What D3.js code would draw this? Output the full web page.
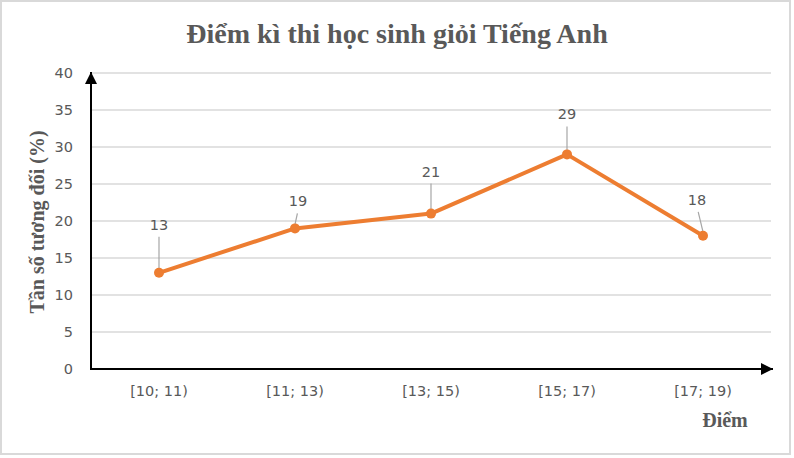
<!DOCTYPE html>
<html>
<head>
<meta charset="utf-8">
<script src="https://cdn.jsdelivr.net/npm/d3@7"></script>
<style>
  html, body { margin: 0; padding: 0; background: #fff; }
  svg { display: block; }
</style>
</head>
<body>
<svg id="chart" width="794" height="458"></svg>
<script>
// data
const categories = ["[10; 11)", "[11; 13)", "[13; 15)", "[15; 17)", "[17; 19)"];
const values = [13, 19, 21, 29, 18];
const yTicks = [0, 5, 10, 15, 20, 25, 30, 35, 40];

// label placement (px offset from point)
const labelDx = [0, 3, 0, 0, -6];
const labelDy = [-48, -27, -42, -40, -36];

const margin = { top: 73, right: 23, bottom: 89, left: 91 };
const svg = d3.select("#chart");
const W = +svg.attr("width");
const H = +svg.attr("height");
const width = W - margin.left - margin.right;
const height = H - margin.top - margin.bottom;

const grey = "#595959";
const orange = "#ED7D31";
const sans = "'DejaVu Sans', Verdana, sans-serif";
const serif = "'Liberation Serif', 'Times New Roman', serif";

// frame
svg.append("rect")
  .attr("x", 1).attr("y", 1)
  .attr("width", W - 5).attr("height", H - 5)
  .attr("fill", "#fff")
  .attr("stroke", "#d9d9d9")
  .attr("stroke-width", 2);

svg.append("defs").append("marker")
  .attr("id", "arrow")
  .attr("viewBox", "0 0 10 10")
  .attr("refX", 10).attr("refY", 5)
  .attr("markerWidth", 6).attr("markerHeight", 6)
  .attr("markerUnits", "strokeWidth")
  .attr("orient", "auto")
  .append("path")
  .attr("d", "M0,0 L10,5 L0,10 Z")
  .attr("fill", "#000");

const g = svg.append("g").attr("transform", `translate(${margin.left},${margin.top})`);

const x = d3.scaleBand().domain(categories).range([0, width]);
const y = d3.scaleLinear().domain([0, 40]).range([height, 0]);

// gridlines
g.append("g")
  .selectAll("line")
  .data(yTicks.filter((d) => d > 0))
  .join("line")
  .attr("x1", 0).attr("x2", width)
  .attr("y1", (d) => y(d)).attr("y2", (d) => y(d))
  .attr("stroke", "#d9d9d9")
  .attr("stroke-width", 1.5);

// y axis labels
const yAxis = g.append("g")
  .call(d3.axisLeft(y).tickValues(yTicks).tickSize(0).tickPadding(18));
yAxis.select(".domain").remove();
yAxis.selectAll("text")
  .attr("fill", grey)
  .style("font-family", sans)
  .style("font-size", "14.5px");

// x axis labels
const xAxis = g.append("g")
  .attr("transform", `translate(0,${height})`)
  .call(d3.axisBottom(x).tickSize(0).tickPadding(17));
xAxis.select(".domain").remove();
xAxis.selectAll("text")
  .attr("fill", grey)
  .style("font-family", sans)
  .style("font-size", "14.5px");

// axis arrows
g.append("line")
  .attr("x1", 0).attr("y1", height)
  .attr("x2", width + 2).attr("y2", height)
  .attr("stroke", "#000").attr("stroke-width", 2)
  .attr("marker-end", "url(#arrow)");
g.append("line")
  .attr("x1", 0).attr("y1", height + 1)
  .attr("x2", 0).attr("y2", -1)
  .attr("stroke", "#000").attr("stroke-width", 2)
  .attr("marker-end", "url(#arrow)");

const pts = values.map((v, i) => ({
  cx: x(categories[i]) + x.bandwidth() / 2,
  cy: y(v),
  v,
  dx: labelDx[i],
  dy: labelDy[i],
}));

// leader lines
g.append("g")
  .selectAll("line")
  .data(pts)
  .join("line")
  .attr("x1", (p) => p.cx + p.dx * 0.8)
  .attr("y1", (p) => p.cy + p.dy + 12)
  .attr("x2", (p) => p.cx)
  .attr("y2", (p) => p.cy - 4)
  .attr("stroke", "#a6a6a6")
  .attr("stroke-width", 1.2);

// line
const line = d3.line().x((p) => p.cx).y((p) => p.cy);
g.append("path")
  .datum(pts)
  .attr("d", line)
  .attr("fill", "none")
  .attr("stroke", orange)
  .attr("stroke-width", 4)
  .attr("stroke-linejoin", "round");

g.append("g")
  .selectAll("circle")
  .data(pts)
  .join("circle")
  .attr("cx", (p) => p.cx)
  .attr("cy", (p) => p.cy)
  .attr("r", 5)
  .attr("fill", orange);

// data labels
g.append("g")
  .selectAll("text")
  .data(pts)
  .join("text")
  .attr("x", (p) => p.cx + p.dx)
  .attr("y", (p) => p.cy + p.dy)
  .attr("text-anchor", "middle")
  .attr("dy", "0.35em")
  .attr("fill", grey)
  .style("font-family", sans)
  .style("font-size", "14.5px")
  .text((p) => p.v);

// title
svg.append("text")
  .attr("x", 397).attr("y", 43)
  .attr("text-anchor", "middle")
  .attr("fill", grey)
  .style("font-family", serif)
  .style("font-weight", "bold")
  .style("font-size", "28px")
  .text("Điểm kì thi học sinh giỏi Tiếng Anh");

// y title
svg.append("text")
  .attr("transform", "translate(44,222) rotate(-90)")
  .attr("text-anchor", "middle")
  .attr("fill", grey)
  .style("font-family", serif)
  .style("font-weight", "bold")
  .style("font-size", "20px")
  .text("Tần số tương đối (%)");

// x title
svg.append("text")
  .attr("x", 725).attr("y", 427)
  .attr("text-anchor", "middle")
  .attr("fill", grey)
  .style("font-family", serif)
  .style("font-weight", "bold")
  .style("font-size", "20px")
  .text("Điểm");
</script>
</body>
</html>
